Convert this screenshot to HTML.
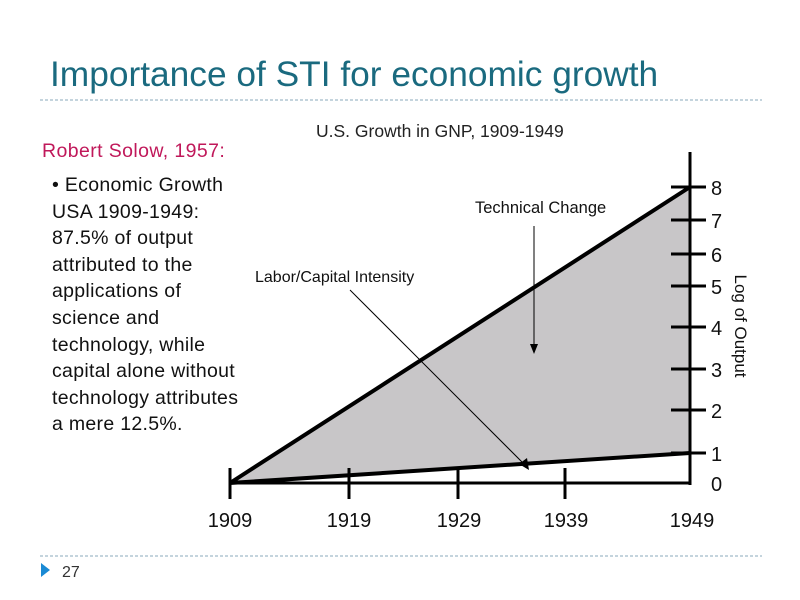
<!DOCTYPE html>
<html><head><meta charset="utf-8"><style>
body{margin:0;width:800px;height:600px;background:#fff;overflow:hidden;position:relative;font-family:"Liberation Sans",sans-serif}
.t{position:absolute;white-space:nowrap}
</style></head><body>
<div class="t" style="left:50px;top:55px;font-size:35.3px;color:#1a6a7f">Importance of STI for economic growth</div>
<div class="t" style="left:42px;top:140px;font-size:19.5px;color:#c0185a;letter-spacing:0.4px">Robert Solow, 1957:</div>
<div class="t" style="left:52px;top:172px;font-size:19.5px;line-height:26.6px;color:#111;letter-spacing:0.3px">• Economic Growth<br>USA 1909-1949:<br>87.5% of output<br>attributed to the<br>applications of<br>science and<br>technology, while<br>capital alone without<br>technology attributes<br>a mere 12.5%.</div>
<svg width="800" height="600" style="position:absolute;left:0;top:0">
<line x1="40" y1="100" x2="762" y2="100" stroke="#8ab" stroke-dasharray="3,2" stroke-width="1"/>
<line x1="40" y1="556" x2="762" y2="556" stroke="#8ab" stroke-dasharray="3,2" stroke-width="1"/>
<polygon points="41,563 50,570 41,577" fill="#1a8ad4"/>
<text x="62" y="577" font-size="16" fill="#333">27</text>
<text x="316" y="137" font-size="17.5" fill="#222">U.S. Growth in GNP, 1909-1949</text>
<polygon points="230,483 690,187 690,453" fill="#c8c6c8"/>
<line x1="230" y1="483" x2="690" y2="187" stroke="#000" stroke-width="4"/>
<line x1="230" y1="483" x2="690" y2="453" stroke="#000" stroke-width="4"/>
<line x1="230" y1="483" x2="690" y2="483" stroke="#000" stroke-width="3"/>
<line x1="690" y1="152" x2="690" y2="485" stroke="#000" stroke-width="3"/>
<g stroke="#000" stroke-width="3">
<line x1="230" y1="468" x2="230" y2="499"/><line x1="349" y1="468" x2="349" y2="499"/><line x1="458" y1="468" x2="458" y2="499"/><line x1="565" y1="468" x2="565" y2="499"/>
<line x1="671" y1="187" x2="706" y2="187"/><line x1="671" y1="220" x2="706" y2="220"/><line x1="671" y1="254" x2="706" y2="254"/><line x1="671" y1="286" x2="706" y2="286"/><line x1="671" y1="327" x2="706" y2="327"/><line x1="671" y1="369" x2="706" y2="369"/><line x1="671" y1="410" x2="706" y2="410"/><line x1="671" y1="453" x2="706" y2="453"/>
</g>
<g font-size="20" fill="#111">
<text x="711" y="195">8</text><text x="711" y="228">7</text><text x="711" y="262">6</text><text x="711" y="294">5</text><text x="711" y="335">4</text><text x="711" y="377">3</text><text x="711" y="418">2</text><text x="711" y="461">1</text><text x="711" y="491">0</text>
<text x="230" y="527" text-anchor="middle">1909</text><text x="349" y="527" text-anchor="middle">1919</text><text x="459" y="527" text-anchor="middle">1929</text><text x="566" y="527" text-anchor="middle">1939</text><text x="692" y="527" text-anchor="middle">1949</text>
</g>
<text transform="translate(735,326) rotate(90)" font-size="17" fill="#111" text-anchor="middle">Log of Output</text>
<text x="475" y="213" font-size="16.5" fill="#111">Technical Change</text>
<text x="255" y="282" font-size="16" fill="#111">Labor/Capital Intensity</text>
<line x1="534" y1="226" x2="534" y2="346" stroke="#000" stroke-width="1"/>
<polygon points="530,344 538,344 534,354" fill="#000"/>
<line x1="350" y1="290" x2="524" y2="464" stroke="#000" stroke-width="1"/>
<polygon points="519,464 527,458 529,470" fill="#000"/>
</svg>
</body></html>
